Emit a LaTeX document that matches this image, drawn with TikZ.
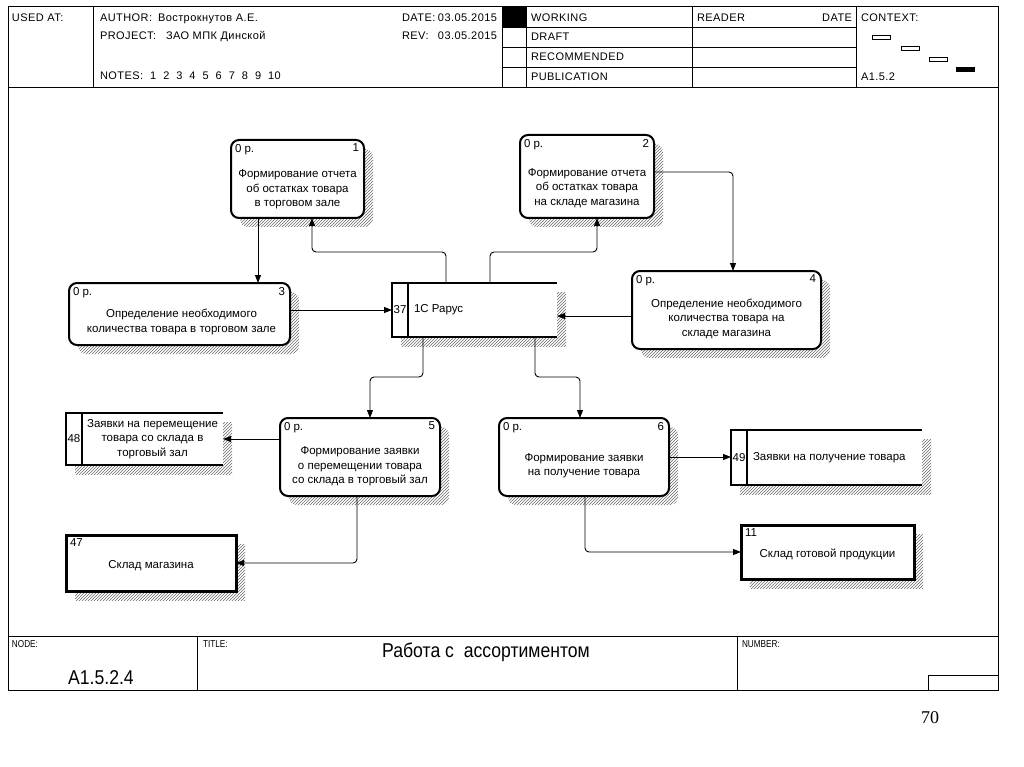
\documentclass[tikz,border=0pt]{standalone}
\usepackage{fontspec}
\setmainfont{Liberation Sans}
\newfontfamily\narrowfont[FakeStretch=0.82]{Liberation Sans}
\newfontfamily\titlefont[FakeStretch=0.88]{Liberation Sans}
\newfontfamily\hdrfont[LetterSpace=4]{Liberation Sans}
\newfontfamily\seriffont{Liberation Serif}
\usetikzlibrary{patterns,shadows,arrows.meta,calc}
\begin{document}
\begin{tikzpicture}[x=1pt,y=-1pt,
  every node/.style={font=\fontsize{11.5}{14.5}\selectfont, inner sep=0pt, outer sep=0pt},
  hdr/.style={font=\hdrfont\fontsize{11}{13}\selectfont, anchor=base west},
  frame/.style={line width=1pt},
  shadowed/.style={drop shadow={shadow xshift=9pt, shadow yshift=-9pt, opacity=1, pattern=north east lines, pattern color=gray!85!black}},
  proc/.style={draw, line width=2pt, rounded corners=8pt, fill=white, shadowed},
  store/.style={fill=white, shadowed},
  storeline/.style={line width=1.8pt},
  place/.style={draw, line width=3pt, fill=white, shadowed},
  body/.style={align=center},
  corner/.style={anchor=north west},
  num/.style={anchor=north east},
  arr/.style={-{Triangle[length=8pt,width=6pt]}, line width=0.9pt, rounded corners=4pt}
]
\useasboundingbox[fill=white] (0,0) rectangle (1024,767);

% ---------- frame ----------
\draw[frame] (8,7) rectangle (998,690);
\draw[frame] (8,88) -- (998,88);
\draw[frame] (8,636) -- (998,636);
\draw[frame] (93,7) -- (93,88);
\draw[frame] (502,7) -- (502,88);
\draw[frame] (526,7) -- (526,88);
\draw[frame] (692,7) -- (692,88);
\draw[frame] (856,7) -- (856,88);
\draw[frame] (502,28) -- (856,28);
\draw[frame] (502,48) -- (856,48);
\draw[frame] (502,68) -- (856,68);
\fill (502,7) rectangle (526,28);
% context thumbnails
\draw[line width=0.8pt] (872,35) rectangle (890,39);
\draw[line width=0.8pt] (901,46) rectangle (919,50);
\draw[line width=0.8pt] (929,57) rectangle (947,61);
\fill (956,67) rectangle (975,72);
% footer
\draw[frame] (197,636) -- (197,690);
\draw[frame] (737,636) -- (737,690);
\draw[frame] (928,690) -- (928,675) -- (998,675);

% ---------- header texts ----------
\node[hdr] (usedat) at (12,22) {USED AT:};
\node[hdr] (author) at (100,22) {AUTHOR:};
\node[hdr] (authorv) at (158,22) {Вострокнутов А.Е.};
\node[hdr] (project) at (100,40) {PROJECT:};
\node[hdr] (projectv) at (166,40) {ЗАО МПК Динской};
\node[hdr] (notes) at (100,80) {NOTES:\ \ 1\ \ 2\ \ 3\ \ 4\ \ 5\ \ 6\ \ 7\ \ 8\ \ 9\ \ 10};
\node[hdr] (date) at (402,22) {DATE:};
\node[hdr, anchor=base east] (datev) at (497,22) {03.05.2015};
\node[hdr] (rev) at (402,40) {REV:};
\node[hdr, anchor=base east] (revv) at (497,40) {03.05.2015};
\node[hdr] (working) at (531,22) {WORKING};
\node[hdr] (draft) at (531,41) {DRAFT};
\node[hdr] (recom) at (531,61) {RECOMMENDED};
\node[hdr] (public) at (531,81) {PUBLICATION};
\node[hdr] (reader) at (697,22) {READER};
\node[hdr, anchor=base east] (rdate) at (852,22) {DATE};
\node[hdr] (context) at (861,22) {CONTEXT:};
\node[hdr] (ctxnode) at (861,81) {A1.5.2};

% ---------- footer texts ----------
\node[anchor=north west, font=\narrowfont\fontsize{10}{12}\selectfont] (nodelbl) at (12,641) {NODE:};
\node[anchor=north west, font=\narrowfont\fontsize{10}{12}\selectfont] (titlelbl) at (203,641) {TITLE:};
\node[anchor=north west, font=\narrowfont\fontsize{10}{12}\selectfont] (numlbl) at (742,641) {NUMBER:};
\node[font=\titlefont\fontsize{20}{22}\selectfont] (title) at (486,652) {Работа с\ \ ассортиментом};
\node[font=\titlefont\fontsize{20}{22}\selectfont] (nodeid) at (101,678) {A1.5.2.4};
\node[font=\seriffont\fontsize{18}{20}\selectfont] (page) at (930,718) {70};

% ---------- activity boxes ----------
\node[proc, minimum width=133pt, minimum height=78pt] (b1) at (297.5,179) {};
\node[proc, minimum width=134pt, minimum height=83pt] (b2) at (587,176.5) {};
\node[proc, minimum width=221pt, minimum height=62pt] (b3) at (179.5,314) {};
\node[proc, minimum width=189pt, minimum height=78pt] (b4) at (726.5,310) {};
\node[proc, minimum width=160pt, minimum height=78pt] (b5) at (360,457) {};
\node[proc, minimum width=170pt, minimum height=78pt] (b6) at (584,457) {};

\foreach \b/\n in {b1/1,b2/2,b3/3,b4/4,b5/5,b6/6}{
  \node[corner] (\b c) at ([xshift=4pt,yshift=-4pt]\b.north west) {0 р.};
  \node[num] (\b n) at ([xshift=-5pt,yshift=-4pt]\b.north east) {\n};
}
\node[body] (t1) at ([yshift=-10.5pt]b1.center) {Формирование отчета\\об остатках товара\\в торговом зале};
\node[body] (t2) at ([yshift=-11.5pt]b2.center) {Формирование отчета\\об остатках товара\\на складе магазина};
\node[body] (t3) at ([xshift=2pt,yshift=-8pt]b3.center) {Определение необходимого\\количества товара в торговом зале};
\node[body] (t4) at ([yshift=-8.5pt]b4.center) {Определение необходимого\\количества товара на\\складе магазина};
\node[body] (t5) at ([yshift=-9.5pt]b5.center) {Формирование заявки\\о перемещении товара\\со склада в торговый зал};
\node[body] (t6) at ([yshift=-8.5pt]b6.center) {Формирование заявки\\на получение товара};

% ---------- data stores ----------
\node[store, minimum width=165pt, minimum height=54pt] (d37) at (474.5,310) {};
\draw[storeline] (d37.north east) -- (d37.north west) -- (d37.south west) -- (d37.south east);
\draw[storeline] ([xshift=16pt]d37.north west) -- ([xshift=16pt]d37.south west);
\node (d37n) at ([xshift=8pt]d37.west) {37};
\node[anchor=west] (d37t) at ([xshift=22pt]d37.west) {1С Рарус};

\node[store, minimum width=157pt, minimum height=52pt] (d48) at (144.5,439) {};
\draw[storeline] (d48.north east) -- (d48.north west) -- (d48.south west) -- (d48.south east);
\draw[storeline] ([xshift=16pt]d48.north west) -- ([xshift=16pt]d48.south west);
\node (d48n) at ([xshift=8pt]d48.west) {48};
\node[body] (d48t) at ([xshift=8pt]d48.center) {Заявки на перемещение\\товара со склада в\\торговый зал};

\node[store, minimum width=191pt, minimum height=55pt] (d49) at (826.5,457.5) {};
\draw[storeline] (d49.north east) -- (d49.north west) -- (d49.south west) -- (d49.south east);
\draw[storeline] ([xshift=16pt]d49.north west) -- ([xshift=16pt]d49.south west);
\node (d49n) at ([xshift=8pt]d49.west) {49};
\node[anchor=west] (d49t) at ([xshift=22pt]d49.west) {Заявки на получение товара};

% ---------- external places ----------
\node[place, minimum width=170pt, minimum height=56pt] (s47) at (151,563) {};
\node[corner] (s47n) at ([xshift=4pt,yshift=-4pt]s47.north west) {47};
\node (s47t) at ([yshift=-3pt]s47.center) {Склад магазина};

\node[place, minimum width=173pt, minimum height=54pt] (s11) at (827.5,552) {};
\node[corner] (s11n) at ([xshift=4pt,yshift=-4pt]s11.north west) {11};
\node (s11t) at ([yshift=-2pt]s11.center) {Склад готовой продукции};

% ---------- connectors ----------
\draw[arr] ([xshift=27pt]b1.south west) -- ([xshift=189pt]b3.north west);
\draw[arr] ([xshift=54pt]d37.north west) -- ++(0,-31) -| ([xshift=81pt]b1.south west);
\draw[arr] ([xshift=98pt]d37.north west) -- ++(0,-31) -| ([xshift=77pt]b2.south west);
\draw[arr] ([yshift=4.5pt]b2.east) -| ([xshift=6.5pt]b4.north);
\draw[arr] ([yshift=4pt]b3.east) -- (d37.west);
\draw[arr] ([yshift=-6pt]b4.west) -- ([yshift=-6pt]d37.east);
\draw[arr] ([xshift=31pt]d37.south west) -- ++(0,40) -| ([xshift=10pt]b5.north);
\draw[arr] ([xshift=143pt]d37.south west) -- ++(0,40) -| ([xshift=-4pt]b6.north);
\draw[arr] (b5.west |- d48.east) -- (d48.east);
\draw[arr] ([xshift=77pt]b5.south west) |- (s47.east);
\draw[arr] (b6.east) -- (b6.east -| d49.west);
\draw[arr] ([xshift=86pt]b6.south west) |- (s11.west);
\end{tikzpicture}
\end{document}
